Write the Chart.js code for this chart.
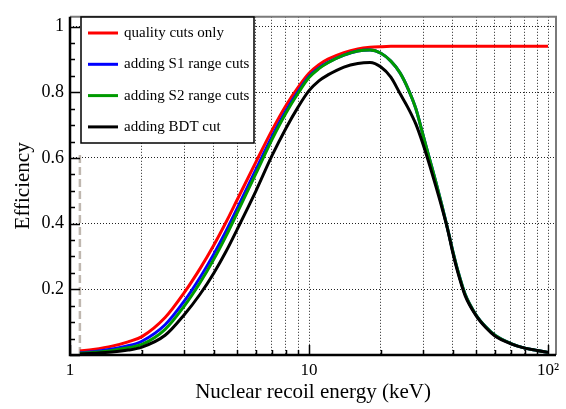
<!DOCTYPE html>
<html>
<head>
<meta charset="utf-8">
<script src="https://cdn.jsdelivr.net/npm/chart.js@4.4.1/dist/chart.umd.min.js"></script>
<style>
html, body { margin: 0; padding: 0; background: #fff; }
#wrap { width: 566px; height: 409px; }
</style>
</head>
<body>
<div id="wrap"><canvas id="effChart" width="566" height="409"></canvas></div>
<script>
// nuclear recoil energy (keV)
var energy = [1.1, 1.25, 1.5, 1.75, 2, 2.5, 3, 3.5, 4, 4.5, 5, 6, 7, 8, 9, 10, 11, 12, 14, 16,
              18, 20, 22, 24, 26, 28, 30, 32, 34, 36, 38, 40, 42, 45, 50, 55, 60, 70, 80, 90, 100];

var qualityOnly = [0.012, 0.017, 0.027, 0.04, 0.056, 0.114, 0.189, 0.263, 0.335, 0.405,
                   0.472, 0.588, 0.684, 0.759, 0.815, 0.858, 0.884, 0.901, 0.921, 0.932,
                   0.937, 0.939, 0.94, 0.94, 0.94, 0.94, 0.94, 0.94, 0.94, 0.94,
                   0.94, 0.94, 0.94, 0.94, 0.94, 0.94, 0.94, 0.94, 0.94, 0.94, 0.94];
var s1Range = [0.007, 0.01, 0.018, 0.028, 0.042, 0.092, 0.163, 0.236, 0.308, 0.378,
               0.446, 0.565, 0.665, 0.743, 0.802, 0.848, 0.874, 0.891, 0.913, 0.926,
               0.929, 0.919, 0.895, 0.86, 0.81, 0.75, 0.67, 0.595, 0.525, 0.455,
               0.385, 0.315, 0.255, 0.185, 0.122, 0.085, 0.06, 0.035, 0.021, 0.014, 0.008];
var s2Range = [0.005, 0.008, 0.014, 0.022, 0.032, 0.078, 0.148, 0.22, 0.292, 0.363,
               0.432, 0.553, 0.656, 0.736, 0.797, 0.845, 0.872, 0.89, 0.913, 0.926,
               0.929, 0.919, 0.895, 0.86, 0.81, 0.75, 0.67, 0.595, 0.525, 0.455,
               0.385, 0.315, 0.255, 0.185, 0.122, 0.085, 0.06, 0.035, 0.021, 0.014, 0.008];
var bdtCut = [0.003, 0.005, 0.009, 0.015, 0.024, 0.06, 0.122, 0.185, 0.25, 0.316,
              0.382, 0.5, 0.607, 0.69, 0.755, 0.805, 0.835, 0.853, 0.877, 0.888,
              0.891, 0.877, 0.846, 0.797, 0.752, 0.703, 0.642, 0.577, 0.512, 0.448,
              0.383, 0.31, 0.25, 0.181, 0.12, 0.083, 0.058, 0.034, 0.021, 0.014, 0.008];

// threshold marker
var thresholdX = [1.1, 1.1];
var thresholdY = [0, 0.62];

var xTicks = [1, 2, 3, 4, 5, 6, 7, 8, 9, 10, 20, 30, 40, 50, 60, 70, 80, 90, 100];
var xTickLabels = {1: '1', 10: '10', 100: '10\u00B2'};
var yTicks = [0, 0.2, 0.4, 0.6, 0.8, 1.0];
var yTickLabels = ['', '0.2', '0.4', '0.6', '0.8', '1'];

var legendNames = ['quality cuts only', 'adding S1 range cuts', 'adding S2 range cuts', 'adding BDT cut'];
var lineColors = ['#ff0000', '#0000ff', '#009a00', '#000000'];

function toPoints(xs, ys) {
    return xs.map(function (x, i) { return {x: x, y: ys[i]}; });
}

var serif = 'Liberation Serif';

// ROOT-like frame: inward ticks, grey top/right edges, legend box
var rootFrame = {
    id: 'rootFrame',
    afterDatasetsDraw: function (chart) {
        var ctx = chart.ctx;
        var a = chart.chartArea;
        var xs = chart.scales.x;
        var ys = chart.scales.y;
        ctx.save();

        ctx.strokeStyle = '#7a7a7a';
        ctx.lineWidth = 2;
        ctx.beginPath();
        ctx.moveTo(a.left, a.top);
        ctx.lineTo(a.right, a.top);
        ctx.lineTo(a.right, a.bottom);
        ctx.stroke();

        ctx.strokeStyle = '#000';
        ctx.lineWidth = 1.5;
        ctx.beginPath();
        xTicks.forEach(function (v) {
            var px = Math.round(xs.getPixelForValue(v)) + 0.5;
            var len = xTickLabels[v] ? 10 : 5;
            ctx.moveTo(px, a.bottom);
            ctx.lineTo(px, a.bottom - len);
        });
        for (var k = 0; k <= 20; k++) {
            var py = Math.round(ys.getPixelForValue(k * 0.05)) + 0.5;
            var len = (k % 4 === 0) ? 10 : 5;
            ctx.moveTo(a.left, py);
            ctx.lineTo(a.left + len, py);
        }
        ctx.stroke();

        ctx.lineWidth = 2.5;
        ctx.beginPath();
        ctx.moveTo(a.left, a.top);
        ctx.lineTo(a.left, a.bottom);
        ctx.lineTo(a.right, a.bottom);
        ctx.stroke();

        // legend
        var bx = 81, by = 17, bw = 173, bh = 126;
        ctx.fillStyle = '#fff';
        ctx.fillRect(bx, by, bw, bh);
        ctx.lineWidth = 1.5;
        ctx.strokeStyle = '#000';
        ctx.strokeRect(bx, by, bw, bh);
        ctx.font = '15px "' + serif + '"';
        ctx.textBaseline = 'middle';
        ctx.textAlign = 'left';
        legendNames.forEach(function (name, i) {
            var ry = by + 16 + i * 31.3;
            ctx.strokeStyle = lineColors[i];
            ctx.lineWidth = 3;
            ctx.beginPath();
            ctx.moveTo(bx + 7, ry);
            ctx.lineTo(bx + 37, ry);
            ctx.stroke();
            ctx.fillStyle = '#000';
            ctx.fillText(name, bx + 43, ry);
        });
        ctx.restore();
    }
};

var ctx = document.getElementById('effChart').getContext('2d');

var curve = function (label, values, color, order) {
    return {
        label: label,
        data: toPoints(energy, values),
        borderColor: color,
        backgroundColor: 'transparent',
        borderWidth: 3,
        pointRadius: 0,
        cubicInterpolationMode: 'monotone',
        order: order
    };
};

var myChart = new Chart(ctx, {
    type: 'line',
    data: {
        datasets: [
            curve(legendNames[0], qualityOnly, lineColors[0], 3),
            curve(legendNames[1], s1Range, lineColors[1], 2),
            curve(legendNames[2], s2Range, lineColors[2], 1),
            curve(legendNames[3], bdtCut, lineColors[3], 0),
            {
                label: 'threshold',
                data: toPoints(thresholdX, thresholdY),
                borderColor: '#bfb7af',
                borderWidth: 2.5,
                borderDash: [8, 4],
                pointRadius: 0,
                order: 4
            }
        ]
    },
    options: {
        responsive: false,
        animation: false,
        events: [],
        layout: { padding: { top: 4, right: 10, left: 0, bottom: 0 } },
        plugins: {
            legend: { display: false },
            tooltip: { enabled: false }
        },
        scales: {
            x: {
                type: 'logarithmic',
                min: 1,
                max: 108,
                afterBuildTicks: function (scale) {
                    scale.ticks = xTicks.map(function (v) { return {value: v}; });
                },
                afterFit: function (scale) { scale.height = 54; },
                grid: { color: '#222', lineWidth: 1, drawTicks: false },
                border: { display: false, dash: [1, 2] },
                ticks: {
                    autoSkip: false,
                    maxRotation: 0,
                    padding: 5,
                    color: '#000',
                    font: { family: serif, size: 17 },
                    callback: function (value) { return xTickLabels[value] || ''; }
                },
                title: {
                    display: true,
                    text: 'Nuclear recoil energy (keV)',
                    color: '#000',
                    font: { family: serif, size: 21 },
                    padding: { top: 0, bottom: 4 }
                }
            },
            y: {
                min: 0,
                max: 1.03,
                afterBuildTicks: function (scale) {
                    scale.ticks = yTicks.map(function (v) { return {value: v}; });
                },
                afterFit: function (scale) { scale.width = 70; },
                grid: { color: '#222', lineWidth: 1, drawTicks: false },
                border: { display: false, dash: [1, 2] },
                ticks: {
                    padding: 6,
                    color: '#000',
                    font: { family: serif, size: 18 },
                    callback: function (value, index) { return yTickLabels[index]; }
                },
                title: {
                    display: true,
                    text: 'Efficiency',
                    color: '#000',
                    font: { family: serif, size: 21 },
                    padding: { top: 11, bottom: 0 }
                }
            }
        }
    },
    plugins: [rootFrame]
});
</script>
</body>
</html>
